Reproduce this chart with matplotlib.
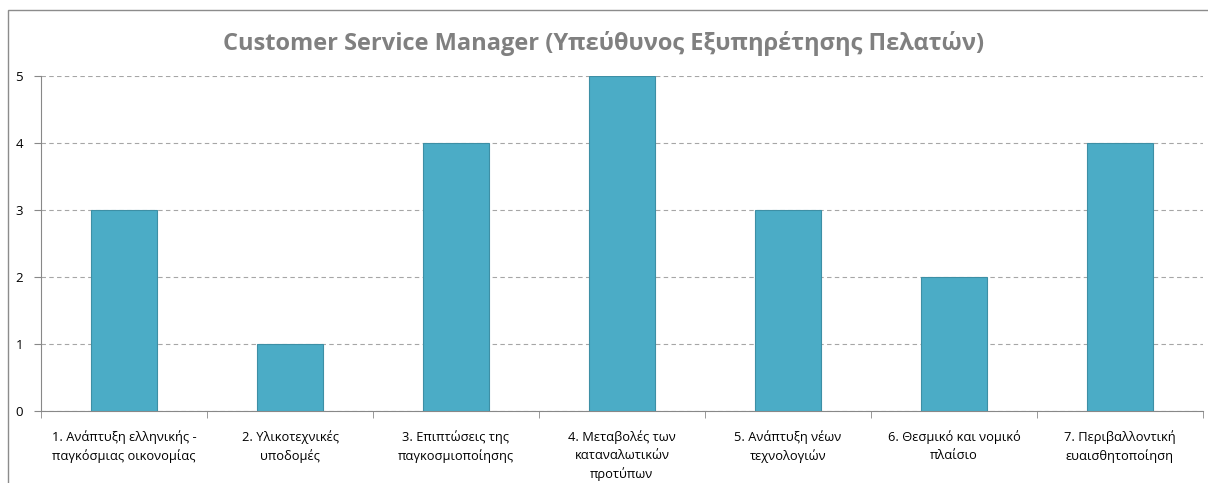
import matplotlib
matplotlib.use("Agg")
import matplotlib.pyplot as plt
from matplotlib.patches import Rectangle
import numpy as np

categories = [
    "1. Ανάπτυξη ελληνικής -\nπαγκόσμιας οικονομίας",
    "2. Υλικοτεχνικές\nυποδομές",
    "3. Επιπτώσεις της\nπαγκοσμιοποίησης",
    "4. Μεταβολές των\nκαταναλωτικών\nπροτύπων",
    "5. Ανάπτυξη νέων\nτεχνολογιών",
    "6. Θεσμικό και νομικό\nπλαίσιο",
    "7. Περιβαλλοντική\nευαισθητοποίηση",
]
values = [3, 1, 4, 5, 3, 2, 4]
yticks = [0, 1, 2, 3, 4, 5]
title = "Customer Service Manager (Υπεύθυνος Εξυπηρέτησης Πελατών)"

plt.rcParams["font.family"] = ["Open Sans", "DejaVu Sans"]

W, H = 1208, 483
fig = plt.figure(figsize=(W / 100, H / 100), dpi=100)

# outer chart frame (cropped on the right and bottom)
fig.patches.append(Rectangle((8 / W, -0.1), 1.2, 1 - 10 / H + 0.1,
                             transform=fig.transFigure, fill=False,
                             edgecolor="#8c8c8c", linewidth=1.0))

ax = fig.add_axes([41 / W, 1 - 411 / H, (1203 - 41) / W, (411 - 76) / H])
x = np.arange(len(categories))
ax.bar(x, values, width=0.4, color="#4bacc6", edgecolor="#3d8fa5",
       linewidth=0.8, zorder=3)

ax.set_xlim(-0.5, len(categories) - 0.5)
ax.set_ylim(0, 5)
ax.set_yticks(yticks)
ax.set_yticklabels([str(v) for v in yticks], fontsize=9.5, color="#000000")
ax.yaxis.grid(True, linestyle=(0, (4, 3)), color="#a6a6a6", linewidth=0.8)
ax.set_axisbelow(True)

ax.set_xticks(x)
ax.set_xticklabels(categories, fontsize=9.3, color="#000000", linespacing=1.45)
ax.tick_params(axis="x", length=0, pad=14)
ax.set_xticks(np.arange(len(categories) + 1) - 0.5, minor=True)
ax.tick_params(axis="x", which="minor", length=5, color="#888888")
ax.tick_params(axis="y", length=5, color="#888888", pad=8)

for side in ("top", "right"):
    ax.spines[side].set_visible(False)
for side in ("left", "bottom"):
    ax.spines[side].set_color("#888888")
    ax.spines[side].set_linewidth(0.8)

fig.text(0.5, 1 - 43 / H, title, ha="center", va="center",
         fontsize=17, fontweight="bold", color="#808080")

fig.savefig("out.png", dpi=100)
